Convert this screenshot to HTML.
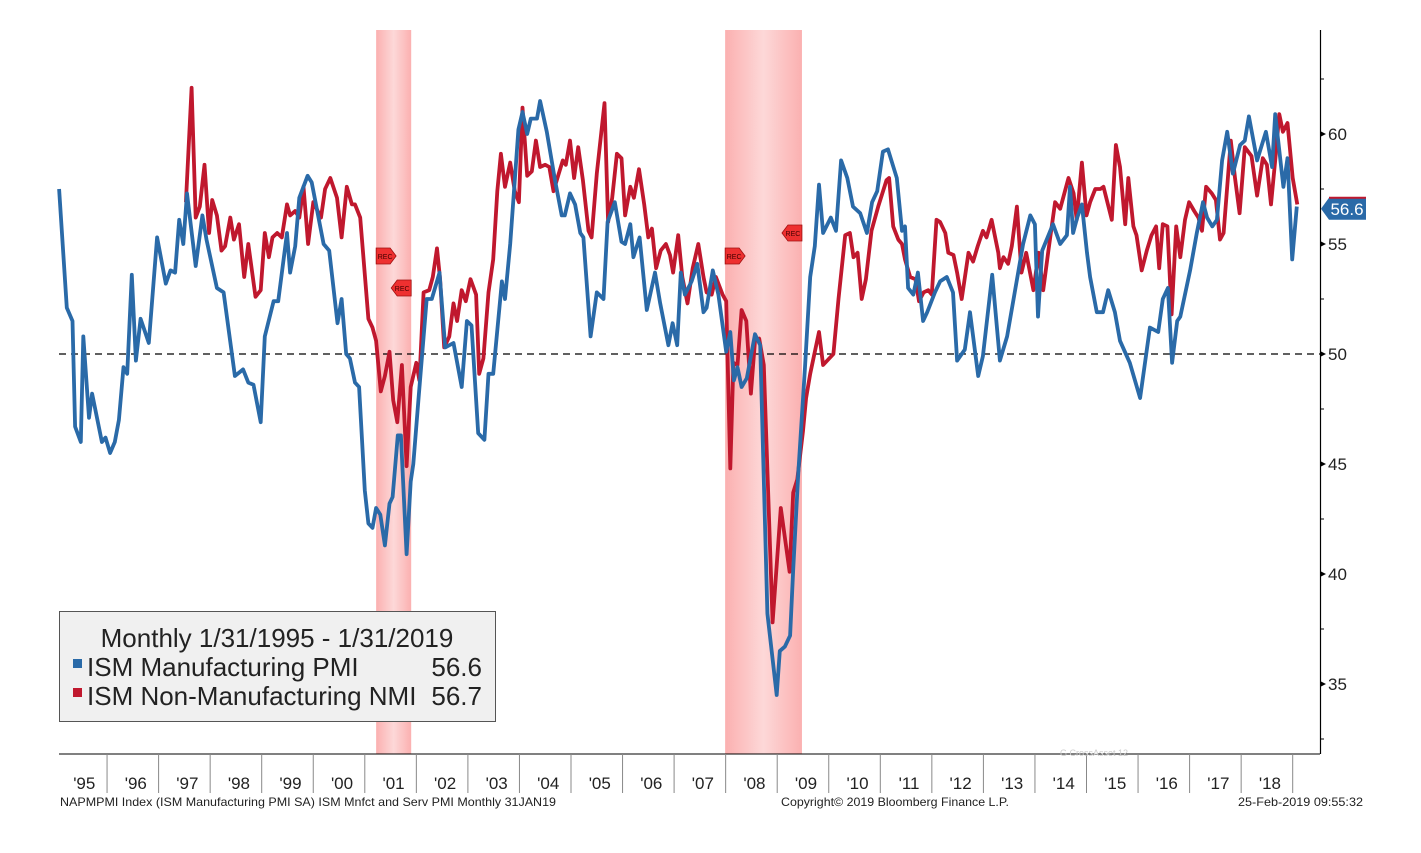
<!DOCTYPE html>
<html><head><meta charset="utf-8"><style>
html,body{margin:0;padding:0;background:#fff;width:1421px;height:853px;overflow:hidden}
svg{display:block;font-family:"Liberation Sans",sans-serif}
</style></head><body>
<svg id="chart" width="1421" height="853" viewBox="0 0 1421 853">
<defs>
<linearGradient id="recg" x1="0" x2="1" y1="0" y2="0">
<stop offset="0" stop-color="#fbb0b0"/><stop offset="0.5" stop-color="#fdd8d8"/><stop offset="1" stop-color="#fbb0b0"/>
</linearGradient>
</defs>
<g id="bands"></g>
<g id="grid"></g>
<g id="series"></g>
<g id="axes"></g>
<g>
<rect x="59.5" y="611.5" width="436" height="110" fill="#f0f0f0" stroke="#555" stroke-width="1"/>
<text x="277" y="647" font-size="26" text-anchor="middle" fill="#222">Monthly 1/31/1995 - 1/31/2019</text>
<rect x="73" y="659" width="9" height="9" fill="#2a6aa8"/>
<text x="87" y="676" font-size="26" fill="#222">ISM Manufacturing PMI</text>
<text x="482" y="676" font-size="26" fill="#222" text-anchor="end">56.6</text>
<rect x="73" y="688" width="9" height="9" fill="#c0182e"/>
<text x="87" y="705" font-size="26" fill="#222">ISM Non-Manufacturing NMI</text>
<text x="482" y="705" font-size="26" fill="#222" text-anchor="end">56.7</text>
</g>
<text x="60" y="806" font-size="12" fill="#222" textLength="496" lengthAdjust="spacingAndGlyphs">NAPMPMI Index (ISM Manufacturing PMI SA) ISM Mnfct and Serv PMI  Monthly 31JAN19</text>
<text x="781" y="806" font-size="12" fill="#222" textLength="228" lengthAdjust="spacingAndGlyphs">Copyright© 2019 Bloomberg Finance L.P.</text>
<text x="1238" y="806" font-size="12" fill="#222" textLength="125" lengthAdjust="spacingAndGlyphs">25-Feb-2019 09:55:32</text>
<text x="1060" y="756" font-size="9" fill="#ccc">G CrossAsset 12</text>
</svg>
<script>
const pmiDates=[1995.07,1995.22,1995.33,1995.38,1995.49,1995.54,1995.65,1995.71,1995.90,1995.97,1996.06,1996.15,1996.23,1996.32,1996.39,1996.48,1996.56,1996.65,1996.81,1996.97,1997.14,1997.23,1997.32,1997.40,1997.48,1997.55,1997.72,1997.85,1997.93,1998.13,1998.26,1998.48,1998.64,1998.74,1998.84,1998.98,1999.06,1999.23,1999.32,1999.49,1999.55,1999.65,1999.73,1999.89,1999.97,2000.20,2000.31,2000.47,2000.55,2000.64,2000.71,2000.81,2000.89,2001.00,2001.07,2001.15,2001.22,2001.30,2001.39,2001.48,2001.54,2001.64,2001.70,2001.81,2001.89,2001.94,2002.04,2002.20,2002.30,2002.45,2002.56,2002.72,2002.88,2002.98,2003.07,2003.20,2003.32,2003.40,2003.49,2003.66,2003.72,2003.82,2003.98,2004.06,2004.15,2004.22,2004.34,2004.40,2004.53,2004.69,2004.82,2004.88,2004.98,2005.08,2005.18,2005.24,2005.38,2005.50,2005.63,2005.71,2005.85,2005.98,2006.05,2006.15,2006.21,2006.33,2006.47,2006.63,2006.73,2006.89,2006.97,2007.06,2007.13,2007.21,2007.34,2007.45,2007.57,2007.63,2007.75,2007.86,2008.01,2008.09,2008.16,2008.23,2008.31,2008.41,2008.57,2008.67,2008.81,2008.99,2009.05,2009.15,2009.25,2009.31,2009.41,2009.54,2009.64,2009.73,2009.81,2009.89,2010.04,2010.14,2010.24,2010.36,2010.47,2010.61,2010.74,2010.84,2010.94,2011.05,2011.15,2011.32,2011.42,2011.48,2011.54,2011.64,2011.73,2011.83,2011.91,2012.06,2012.16,2012.29,2012.41,2012.49,2012.64,2012.74,2012.90,2012.99,2013.17,2013.32,2013.46,2013.77,2013.91,2014.00,2014.06,2014.14,2014.35,2014.49,2014.62,2014.68,2014.74,2014.82,2014.91,2015.01,2015.07,2015.20,2015.32,2015.42,2015.55,2015.65,2015.84,2016.04,2016.23,2016.39,2016.48,2016.58,2016.66,2016.76,2016.82,2017.01,2017.14,2017.26,2017.34,2017.44,2017.53,2017.63,2017.73,2017.84,2017.98,2018.07,2018.15,2018.31,2018.48,2018.60,2018.66,2018.82,2018.90,2018.99,2019.08];
const pmiValues=[57.5,52.1,51.5,46.7,46.0,50.8,47.1,48.2,46.0,46.2,45.5,46.0,47.0,49.4,49.1,53.6,49.7,51.6,50.5,55.3,53.2,53.8,53.7,56.1,55.0,57.3,54.0,56.3,55.2,53.0,52.8,49.0,49.3,48.7,48.6,46.9,50.8,52.4,52.4,55.5,53.7,54.9,57.1,58.1,57.8,55.0,54.7,51.4,52.5,50.0,49.8,48.7,48.5,43.8,42.3,42.1,43.0,42.7,41.3,43.2,43.5,46.3,46.3,40.9,44.2,45.0,47.9,52.5,52.5,53.7,50.3,50.5,48.5,51.5,51.3,46.4,46.1,49.1,49.1,53.3,52.5,55.0,60.2,61.0,60.0,60.7,60.7,61.5,60.1,57.9,56.3,56.3,57.3,56.8,55.5,55.3,50.8,52.8,52.5,56.0,56.9,55.1,55.0,55.9,54.4,55.3,52.0,53.7,52.3,50.4,51.4,50.4,53.7,52.7,53.3,54.1,51.9,52.1,53.8,52.7,50.1,51.0,48.8,49.4,48.5,48.9,50.9,50.4,38.2,34.5,36.5,36.7,37.2,40.2,44.6,49.4,53.5,54.9,57.7,55.5,56.2,55.6,58.8,58.0,56.7,56.4,55.5,56.9,57.4,59.2,59.3,58.0,55.6,55.8,53.0,52.7,53.7,51.5,51.9,52.8,53.3,53.5,52.8,49.7,50.2,51.9,49.0,49.9,53.6,49.7,50.8,55.0,56.3,55.9,51.7,54.7,55.9,55.0,55.4,57.6,55.5,56.2,56.8,54.6,53.5,51.9,51.9,52.9,51.9,50.6,49.6,48.0,51.2,51.0,52.5,53.0,49.6,51.5,51.7,53.8,55.5,56.9,56.2,55.8,56.1,58.8,60.1,58.2,59.5,59.7,60.8,58.8,60.1,58.5,60.9,57.6,58.9,54.3,56.7];
const nmiDates=[1997.53,1997.64,1997.72,1997.80,1997.89,1997.98,1998.04,1998.13,1998.22,1998.29,1998.39,1998.46,1998.56,1998.66,1998.74,1998.88,1998.98,1999.06,1999.14,1999.21,1999.30,1999.39,1999.49,1999.55,1999.65,1999.73,1999.81,1999.90,2000.00,2000.15,2000.23,2000.33,2000.46,2000.55,2000.65,2000.75,2000.81,2000.91,2001.07,2001.15,2001.22,2001.31,2001.39,2001.48,2001.55,2001.63,2001.72,2001.81,2001.89,2002.00,2002.06,2002.14,2002.25,2002.32,2002.40,2002.46,2002.54,2002.64,2002.72,2002.79,2002.88,2002.96,2003.05,2003.16,2003.22,2003.30,2003.40,2003.49,2003.57,2003.64,2003.72,2003.82,2003.91,2003.99,2004.06,2004.15,2004.24,2004.32,2004.40,2004.50,2004.58,2004.66,2004.75,2004.84,2004.90,2004.98,2005.06,2005.14,2005.23,2005.34,2005.40,2005.50,2005.65,2005.72,2005.80,2005.89,2005.98,2006.05,2006.15,2006.22,2006.32,2006.42,2006.50,2006.57,2006.65,2006.74,2006.84,2006.92,2006.98,2007.08,2007.16,2007.26,2007.36,2007.47,2007.57,2007.63,2007.73,2007.81,2007.94,2008.01,2008.09,2008.15,2008.23,2008.31,2008.40,2008.49,2008.57,2008.65,2008.74,2008.91,2009.07,2009.24,2009.31,2009.39,2009.50,2009.56,2009.64,2009.81,2009.89,2010.09,2010.19,2010.32,2010.41,2010.48,2010.56,2010.64,2010.72,2010.83,2010.96,2011.12,2011.17,2011.25,2011.35,2011.42,2011.48,2011.58,2011.68,2011.75,2011.84,2011.93,2012.00,2012.09,2012.16,2012.26,2012.32,2012.42,2012.49,2012.58,2012.71,2012.80,2012.89,2012.99,2013.06,2013.16,2013.29,2013.32,2013.39,2013.48,2013.55,2013.65,2013.74,2013.83,2013.97,2014.07,2014.16,2014.26,2014.39,2014.49,2014.65,2014.75,2014.81,2014.91,2015.00,2015.07,2015.17,2015.27,2015.33,2015.49,2015.57,2015.65,2015.75,2015.81,2015.91,2015.97,2016.07,2016.17,2016.26,2016.35,2016.41,2016.48,2016.57,2016.65,2016.74,2016.82,2016.91,2016.99,2017.09,2017.17,2017.24,2017.32,2017.43,2017.51,2017.59,2017.66,2017.80,2017.88,2017.97,2018.07,2018.20,2018.31,2018.42,2018.50,2018.58,2018.66,2018.74,2018.81,2018.90,2019.00,2019.09];
const nmiValues=[56.9,62.1,56.2,56.7,58.6,55.5,57.0,56.3,54.7,54.9,56.2,55.2,55.9,53.5,55.0,52.6,52.9,55.5,54.4,55.3,55.5,55.3,56.8,56.3,56.5,56.2,57.6,55.0,56.9,56.2,57.5,58.0,57.1,55.3,57.6,56.8,56.8,56.2,51.6,51.2,50.6,48.3,49.0,50.1,47.9,46.9,49.5,44.9,48.5,49.6,48.8,52.8,52.9,53.5,54.8,53.4,50.3,50.8,52.3,51.5,52.9,52.4,53.4,52.7,49.1,49.8,52.8,54.3,57.4,59.1,57.6,58.7,57.4,56.9,61.2,58.1,58.3,59.7,58.5,58.6,58.5,57.4,58.1,58.8,58.6,59.7,58.0,59.4,57.9,55.6,55.3,58.2,61.4,56.0,57.1,59.1,58.9,56.3,57.6,57.1,58.4,56.8,55.3,55.7,53.9,54.7,55.0,54.5,53.7,55.4,53.5,52.3,53.9,55.0,53.5,52.8,52.7,53.5,52.7,52.4,44.8,49.6,49.5,52.0,51.5,48.2,50.6,50.7,49.5,37.8,43.0,40.1,43.7,44.3,46.5,48.0,49.1,51.0,49.5,50.0,52.5,55.4,55.5,54.4,54.6,52.5,53.4,55.6,56.7,57.9,58.0,55.8,55.2,55.0,54.3,53.5,53.4,52.4,52.8,52.9,52.7,56.1,56.0,55.5,54.6,54.5,53.7,52.5,54.6,54.2,54.9,55.6,55.3,56.1,54.6,53.9,54.4,54.1,54.9,56.7,53.7,54.6,52.9,54.6,52.9,54.7,56.9,56.6,58.0,57.3,56.1,58.7,56.3,56.9,57.5,57.5,57.6,56.1,59.5,58.5,55.9,58.0,55.8,55.4,53.8,54.7,55.4,55.8,53.9,55.9,55.8,51.8,55.8,54.4,56.1,56.9,56.5,56.2,55.6,57.6,57.3,57.0,55.2,55.5,59.7,58.0,56.4,59.4,59.0,57.2,58.9,58.6,56.8,58.8,60.9,60.1,60.5,58.0,56.8];
const recessionStarts=[2001.22,2007.99];
const recessionEnds=[2001.90,2009.48];
const yearLabels=["'95","'96","'97","'98","'99","'00","'01","'02","'03","'04","'05","'06","'07","'08","'09","'10","'11","'12","'13","'14","'15","'16","'17","'18"];
const yTickValues=[35,40,45,50,55,60];
const yMinorValues=[32.5,37.5,42.5,47.5,52.5,57.5,62.5];
const lastPmi=56.6;

const NS="http://www.w3.org/2000/svg";
const X0=55.5, PX=51.55, L=59, R=1320, AXY=754;
function xs(d){return X0+(d-1995)*PX;}
function ys(v){return 354-(v-50)*22;}
function mk(tag,attrs,parent){const e=document.createElementNS(NS,tag);for(const k in attrs)e.setAttribute(k,attrs[k]);parent.appendChild(e);return e;}
const bands=document.getElementById('bands'),grid=document.getElementById('grid'),series=document.getElementById('series'),axes=document.getElementById('axes');

recessionStarts.forEach((s,i)=>{
  const x1=xs(s),x2=xs(recessionEnds[i]);
  const r=mk('rect',{x:x1,y:30,width:x2-x1,height:AXY-30,fill:'url(#recg)'},bands);
  
  
  const fy1=248, fy2=i===0?280:225;
  const f1=mk('g',{},bands);
  
  
  mk('path',{d:`M${x1} ${fy1}h14l6 8l-6 8h-14z`,fill:'#ee3030',stroke:'#a01010','stroke-width':0.8},f1);
  mk('text',{x:x1+9,y:fy1+11,'font-size':7,'text-anchor':'middle',fill:'#400'},f1).textContent='REC';
  const f2=mk('g',{},bands);
  
  
  mk('path',{d:`M${x2} ${fy2}h-14l-6 8l6 8h14z`,fill:'#ee3030',stroke:'#a01010','stroke-width':0.8},f2);
  mk('text',{x:x2-9,y:fy2+11,'font-size':7,'text-anchor':'middle',fill:'#400'},f2).textContent='REC';
});

const dash=mk('line',{x1:L,x2:R,y1:ys(50),y2:ys(50),stroke:'#000','stroke-width':1.2,'stroke-dasharray':'7,5'},grid);



function line(dates,vals,color,name){
  const d=dates.map((t,i)=>(i?'L':'M')+xs(t).toFixed(1)+' '+ys(vals[i]).toFixed(1)).join('');
  const p=mk('path',{d:d,fill:'none',stroke:color,'stroke-width':3.8,'stroke-linejoin':'round'},series);
  
  
}
line(nmiDates,nmiValues,'#c0182e','nmi-line');
line(pmiDates,pmiValues,'#2a6aa8','pmi-line');

const xa=mk('line',{x1:L,x2:R,y1:AXY,y2:AXY,stroke:'#000','stroke-width':1},axes);


const ya=mk('line',{x1:R+0.5,x2:R+0.5,y1:30,y2:AXY,stroke:'#000','stroke-width':1.2},axes);


yearLabels.forEach((lab,i)=>{
  const xa0=xs(1995+i), xa1=xs(1996+i);
  if(i>0){const s=mk('line',{x1:xa0,x2:xa0,y1:AXY,y2:793,stroke:'#888','stroke-width':1},axes);
  
  }
  const t=mk('text',{x:(xa0+xa1)/2+3,y:789,'font-size':17,'text-anchor':'middle',fill:'#222'},axes);
  t.textContent=lab;
  
  
});
const sEnd=mk('line',{x1:xs(2019),x2:xs(2019),y1:AXY,y2:793,stroke:'#888','stroke-width':1},axes);


yTickValues.forEach(v=>{
  const y=ys(v);
  const tk=mk('path',{d:`M${R} ${y-3}l6 3l-6 3z`,fill:'#000'},axes);
  
  
  const t=mk('text',{x:R+8,y:y+6,'font-size':17,fill:'#222'},axes);
  t.textContent=String(v);
  
  
});
yMinorValues.forEach(v=>{
  const m=mk('line',{x1:R,x2:R+4,y1:ys(v),y2:ys(v),stroke:'#000','stroke-width':1},axes);
  
  
});
const ty=ys(lastPmi);
const tag=mk('g',{},axes);


mk('path',{d:`M${R+1} ${ty}l8 -11h37v22h-37z`,fill:'#2a6aa8'},tag);
mk('line',{x1:R+9,x2:R+46,y1:ty-11,y2:ty-11,stroke:'#c0182e','stroke-width':2},tag);
const tt=mk('text',{x:R+27,y:ty+6,'font-size':17,'text-anchor':'middle',fill:'#fff'},tag);
tt.textContent=lastPmi.toFixed(1);
</script>
</body></html>
